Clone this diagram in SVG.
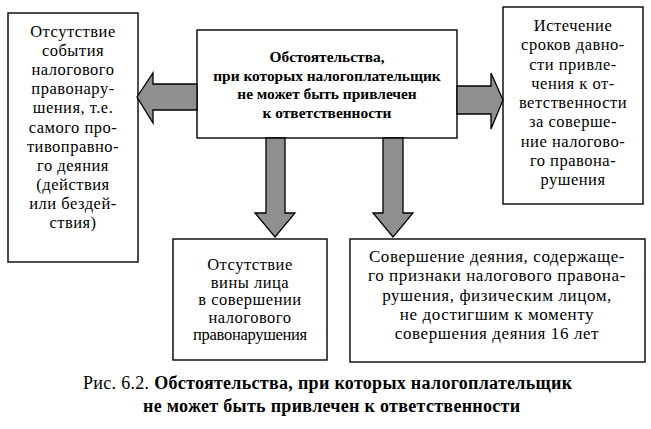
<svg xmlns="http://www.w3.org/2000/svg" width="651" height="429" viewBox="0 0 651 429">
<style>
.box{fill:#fff;stroke:#000;stroke-width:1.4}
.arr{fill:#8f8f8f;stroke:#000;stroke-width:1.3;stroke-linejoin:miter}
text{font-family:"Liberation Serif","Times New Roman",serif;fill:#000}
.t{font-size:16.5px;letter-spacing:0.5px;text-anchor:middle}
.t2{font-size:17px;letter-spacing:0.6px;text-anchor:middle}
.b{font-size:15.4px;font-weight:bold;text-anchor:middle}
.cap{font-size:18px;letter-spacing:0.3px}
</style>
<rect width="651" height="429" fill="#fff"/>
<g id="n-left">
<rect class="box" x="8" y="13" width="130" height="249"/>
<text class="t"><tspan x="73" y="37">Отсутствие</tspan><tspan x="73" y="56">события</tspan><tspan x="73" y="75">налогового</tspan><tspan x="73" y="94">правонару-</tspan><tspan x="73" y="113">шения, т.е.</tspan><tspan x="73" y="132.5">самого про-</tspan><tspan x="73" y="151.5">тивоправно-</tspan><tspan x="73" y="170.5">го деяния</tspan><tspan x="73" y="190">(действия</tspan><tspan x="73" y="209">или бездей-</tspan><tspan x="73" y="228">ствия)</tspan></text>
</g>
<g id="n-center">
<rect class="box" x="197" y="30" width="260" height="108"/>
<text class="b"><tspan x="327" y="62">Обстоятельства,</tspan><tspan x="327" y="80.5">при которых налогоплательщик</tspan><tspan x="327" y="99">не может быть привлечен</tspan><tspan x="327" y="117.5">к ответственности</tspan></text>
</g>
<g id="n-right">
<rect class="box" x="503" y="7" width="140" height="197"/>
<text class="t"><tspan x="573" y="31">Истечение</tspan><tspan x="573" y="50">сроков давно-</tspan><tspan x="573" y="69.5">сти привле-</tspan><tspan x="573" y="88.5">чения к от-</tspan><tspan x="573" y="108">ветственности</tspan><tspan x="573" y="127">за соверше-</tspan><tspan x="573" y="146.5">ние налогово-</tspan><tspan x="573" y="165.5">го правона-</tspan><tspan x="573" y="185">рушения</tspan></text>
</g>
<g id="n-bottom-left">
<rect class="box" x="173" y="239" width="154" height="121"/>
<text class="t"><tspan x="250" y="270">Отсутствие</tspan><tspan x="250" y="287.5">вины лица</tspan><tspan x="250" y="305">в совершении</tspan><tspan x="250" y="322.5">налогового</tspan><tspan x="250" y="340" style="letter-spacing:-0.3px">правонарушения</tspan></text>
</g>
<g id="n-bottom-right">
<rect class="box" x="350" y="239" width="295" height="123"/>
<text class="t2"><tspan x="497" y="262">Совершение деяния, содержаще-</tspan><tspan x="497" y="281">го признаки налогового правона-</tspan><tspan x="497" y="300.5">рушения, физическим лицом,</tspan><tspan x="497" y="319.5">не достигшим к моменту</tspan><tspan x="497" y="339">совершения деяния 16 лет</tspan></text>
</g>
<g id="connectors">
<polygon class="arr" points="197,84 153,84 153,73 137,97 153,123 153,110 197,110"/>
<polygon class="arr" points="457,86 491,86 491,73 503,100 491,129 491,114 457,114"/>
<polygon class="arr" points="266,138 285,138 285,213 295,213 275,237 255,213 266,213"/>
<polygon class="arr" points="383,138 403,138 403,213 413,213 393,237 373,213 383,213"/>
</g>
<g id="caption">
<text class="cap" x="83" y="389">Рис. 6.2. <tspan font-weight="bold">Обстоятельства, при которых налогоплательщик</tspan></text>
<text class="cap" x="143" y="412" font-weight="bold">не может быть привлечен к ответственности</text>
</g>
</svg>
